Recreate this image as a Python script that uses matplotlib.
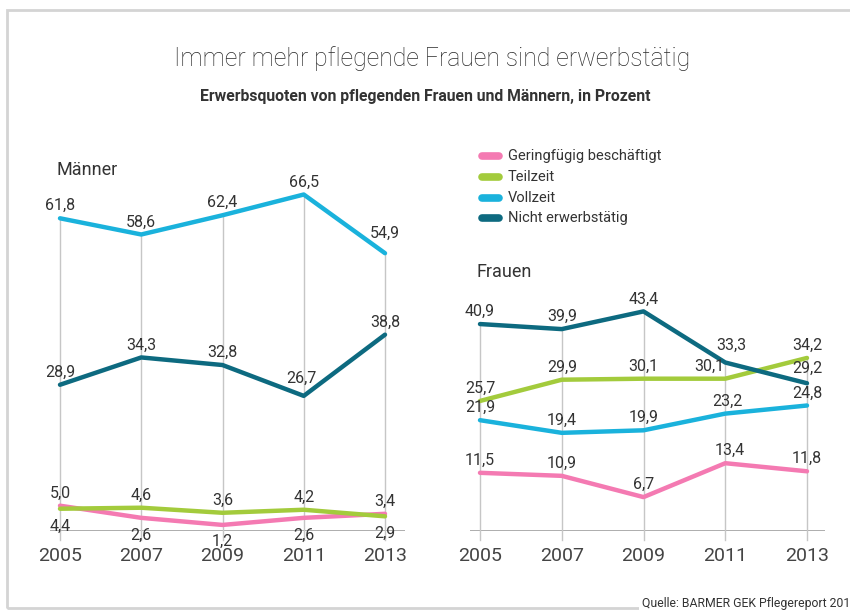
import matplotlib.pyplot as plt
from matplotlib.patches import Rectangle

# data (Prozent)
years = [2005, 2007, 2009, 2011, 2013]
series_names = ['Geringfügig beschäftigt', 'Teilzeit', 'Vollzeit', 'Nicht erwerbstätig']
colors = ['#f47ab2', '#a3cb3c', '#1ab2dc', '#0d6a80']

maenner_gering = [5.0, 2.6, 1.2, 2.6, 3.4]
maenner_teilzeit = [4.4, 4.6, 3.6, 4.2, 2.9]
maenner_vollzeit = [61.8, 58.6, 62.4, 66.5, 54.9]
maenner_nicht = [28.9, 34.3, 32.8, 26.7, 38.8]

frauen_gering = [11.5, 10.9, 6.7, 13.4, 11.8]
frauen_teilzeit = [25.7, 29.9, 30.1, 30.1, 34.2]
frauen_vollzeit = [21.9, 19.4, 19.9, 23.2, 24.8]
frauen_nicht = [40.9, 39.9, 43.4, 33.3, 29.2]

# label offsets in pixels (dx, dy) per point; negative dy = below
maenner_offsets = [
    [(0, 5), (0, -10), (0, -9), (0, -10), (0, 5)],
    [(0, -10), (0, 5), (0, 5), (0, 5), (0, -10)],
    [(0, 5), (0, 5), (0, 5), (0, 5), (0, 12)],
    [(0, 5), (0, 5), (0, 5), (-2, 10), (0, 5)],
]
frauen_offsets = [
    [(0, 5), (0, 5), (0, 5), (4, 5), (0, 5)],
    [(0, 5), (0, 5), (0, 5), (-16, 5), (0, 5)],
    [(0, 5), (0, 5), (0, 5), (2, 5), (0, 5)],
    [(0, 5), (0, 5), (0, 5), (6, 10), (0, 7)],
]

TXT = '#333333'
NUMFONT = ['Roboto', 'DejaVu Sans']

fig = plt.figure(figsize=(8.5, 6.1), dpi=100)
fig.patch.set_facecolor('white')

# outer frame
fig.patches.append(Rectangle((7 / 850, 2 / 610), 1.0, (608 - 10) / 610,
                             transform=fig.transFigure, fill=False,
                             edgecolor='#d4d4d4', linewidth=2, zorder=0))

fig.text(0.508, 1 - 59 / 610, 'Immer mehr pflegende Frauen sind erwerbstätig',
         ha='center', va='center', fontsize=17.8, fontweight='light', color='#2a2a2a',
         family=NUMFONT)
fig.text(0.5, 1 - 97 / 610, 'Erwerbsquoten von pflegenden Frauen und Männern, in Prozent',
         ha='center', va='center', fontsize=11.3, fontweight='bold', color=TXT,
         family=NUMFONT)

fig.text(642 / 850, 1 - 603 / 610, 'Quelle: BARMER GEK Pflegereport 2014',
         ha='left', va='center', fontsize=8.8, color=TXT, family=NUMFONT,
         bbox=dict(facecolor='white', edgecolor='none', pad=2))

ymax = 70
px_per_unit = 5.06
bottom = (610 - 531) / 610
height = ymax * px_per_unit / 610


def draw_panel(left_px, right_px, x0_px, x1_px, data, offsets, title, title_xy):
    # axes placed so that 2005 sits at x0_px and 2013 at x1_px
    ppy = (x1_px - x0_px) / (years[-1] - years[0])
    xmin = years[0] - (x0_px - left_px) / ppy
    xmax = years[-1] + (right_px - x1_px) / ppy
    ax = fig.add_axes([left_px / 850, bottom, (right_px - left_px) / 850, height])
    ax.set_xlim(xmin, xmax)
    ax.set_ylim(0, ymax)
    ax.axis('off')

    ax.axhline(0, color='#a0a0a0', linewidth=1.2, zorder=1)
    tops = [max(vals) for vals in zip(*data)]
    for yr, top in zip(years, tops):
        ax.plot([yr, yr], [-1.8, top], color='#c6c6c6', linewidth=1,
                zorder=1, clip_on=False)
        ax.text(yr, -5.0, str(yr), ha='center', va='center', fontsize=14,
                color='#444444', family=NUMFONT)

    for vals, col, offs in zip(data, colors, offsets):
        ax.plot(years, vals, color=col, linewidth=3.2, solid_capstyle='round',
                solid_joinstyle='round', zorder=3, clip_on=False)
        for yr, v, (dx, dy) in zip(years, vals, offs):
            ax.annotate(f'{v:.1f}'.replace('.', ','), (yr, v),
                        xytext=(dx * 0.72, dy * 0.72), textcoords='offset points',
                        ha='center', va='bottom' if dy > 0 else 'top',
                        fontsize=11.5, color=TXT, family=NUMFONT, zorder=4)

    fig.text(title_xy[0] / 850, 1 - title_xy[1] / 610, title, ha='left',
             va='center', fontsize=13, color=TXT, family=NUMFONT)
    return ax


draw_panel(50, 405, 60, 385,
           [maenner_gering, maenner_teilzeit, maenner_vollzeit, maenner_nicht],
           maenner_offsets, 'Männer', (56, 170))
draw_panel(470, 825, 480, 807,
           [frauen_gering, frauen_teilzeit, frauen_vollzeit, frauen_nicht],
           frauen_offsets, 'Frauen', (476, 272))

# legend
leg_y = [156, 177, 198, 218]
for name, col, ly in zip(series_names, colors, leg_y):
    yf = 1 - ly / 610
    fig.add_artist(plt.Line2D([482 / 850, 499 / 850], [yf, yf], color=col,
                              linewidth=5.5, solid_capstyle='round',
                              transform=fig.transFigure))
    fig.text(508 / 850, yf, name, ha='left', va='center', fontsize=10.5,
             color=TXT, family=NUMFONT)

fig.savefig('out.png', dpi=100, facecolor='white')
